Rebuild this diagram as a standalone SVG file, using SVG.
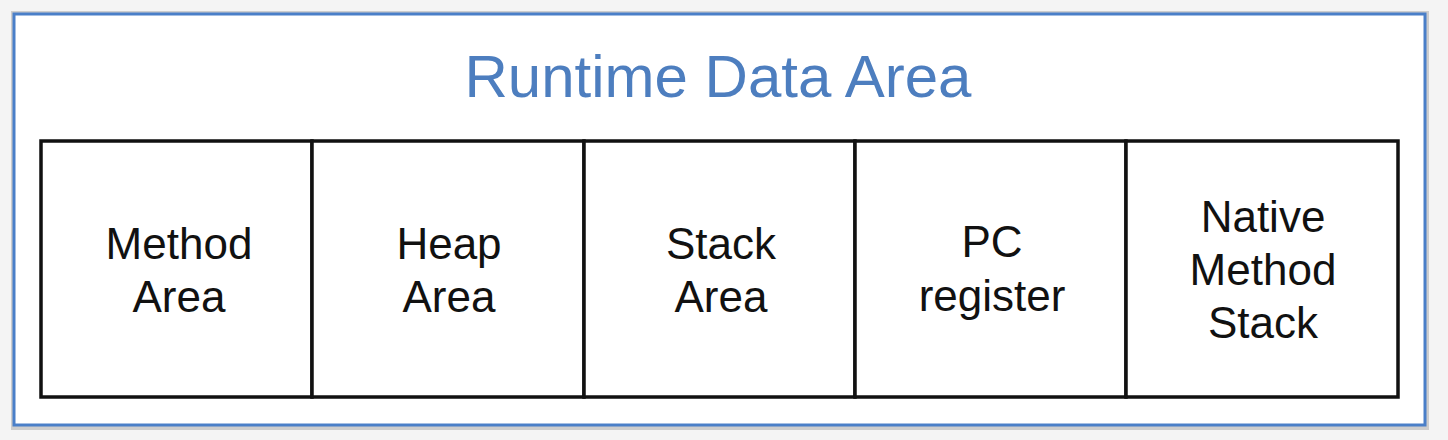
<svg xmlns="http://www.w3.org/2000/svg" width="1448" height="440" viewBox="0 0 1448 440">
<style>
.cell{fill:#ffffff;stroke:#111111;stroke-width:3.5}
.lbl{font-family:"Liberation Sans",Arial,sans-serif;font-size:44px;fill:#111111;text-anchor:middle}
.title{font-family:"Liberation Sans",Arial,sans-serif;font-size:60px;fill:#4d7ebf;text-anchor:middle}
</style>
<rect x="0" y="0" width="1448" height="440" fill="#f4f4f4"/>
<g id="frame">
<rect x="11" y="11" width="1418" height="419" fill="#cdcdcd"/>
<rect x="14" y="14" width="1411" height="411" fill="#ffffff" stroke="#4a7fc8" stroke-width="3"/>
<text class="title" x="718" y="97">Runtime Data Area</text>
</g>
<g id="method-area">
<rect class="cell" x="41" y="141" width="271" height="256"/>
<text class="lbl" x="179" y="259">Method</text>
<text class="lbl" x="179" y="312">Area</text>
</g>
<g id="heap-area">
<rect class="cell" x="312" y="141" width="272" height="256"/>
<text class="lbl" x="449" y="259">Heap</text>
<text class="lbl" x="449" y="312">Area</text>
</g>
<g id="stack-area">
<rect class="cell" x="584" y="141" width="271" height="256"/>
<text class="lbl" x="721" y="259">Stack</text>
<text class="lbl" x="721" y="312">Area</text>
</g>
<g id="pc-register">
<rect class="cell" x="855" y="141" width="271" height="256"/>
<text class="lbl" x="992" y="257">PC</text>
<text class="lbl" x="992" y="311">register</text>
</g>
<g id="native-method-stack">
<rect class="cell" x="1126" y="141" width="272" height="256"/>
<text class="lbl" x="1263" y="232">Native</text>
<text class="lbl" x="1263" y="285">Method</text>
<text class="lbl" x="1263" y="338">Stack</text>
</g>
<g id="connectors"></g>
</svg>
